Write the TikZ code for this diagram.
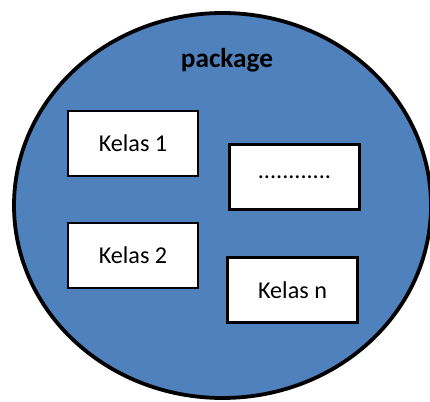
\documentclass[tikz,border=0pt]{standalone}
\usepackage{fontspec}
\setmainfont{Carlito}
\usepackage{xcolor}
\definecolor{pkgblue}{HTML}{4F81BD}

\begin{document}
\begin{tikzpicture}[every node/.style={font=\fontsize{17.2}{21}\selectfont},
	kelas/.style={rectangle, draw=black, line width=1.8pt, fill=white, minimum width=3.25cm, minimum height=1.625cm}]
	\useasboundingbox (0,0) rectangle (10.75,10.025);
	\draw[line width=2.7pt, fill=pkgblue] (5.5625,4.8875) ellipse (5.2125cm and 4.8125cm);
	\node(pkg) at (5.675,8.525){\fontsize{19.4}{23}\selectfont\bfseries package};
	\node[kelas](k1) at (3.325,6.4375){Kelas 1};
	\node[kelas](dots) at (7.3625,5.6){............};
	\node[kelas](k2) at (3.325,3.6375){Kelas 2};
	\node[kelas](kn) at (7.3125,2.775){Kelas n};
\end{tikzpicture}
\end{document}
